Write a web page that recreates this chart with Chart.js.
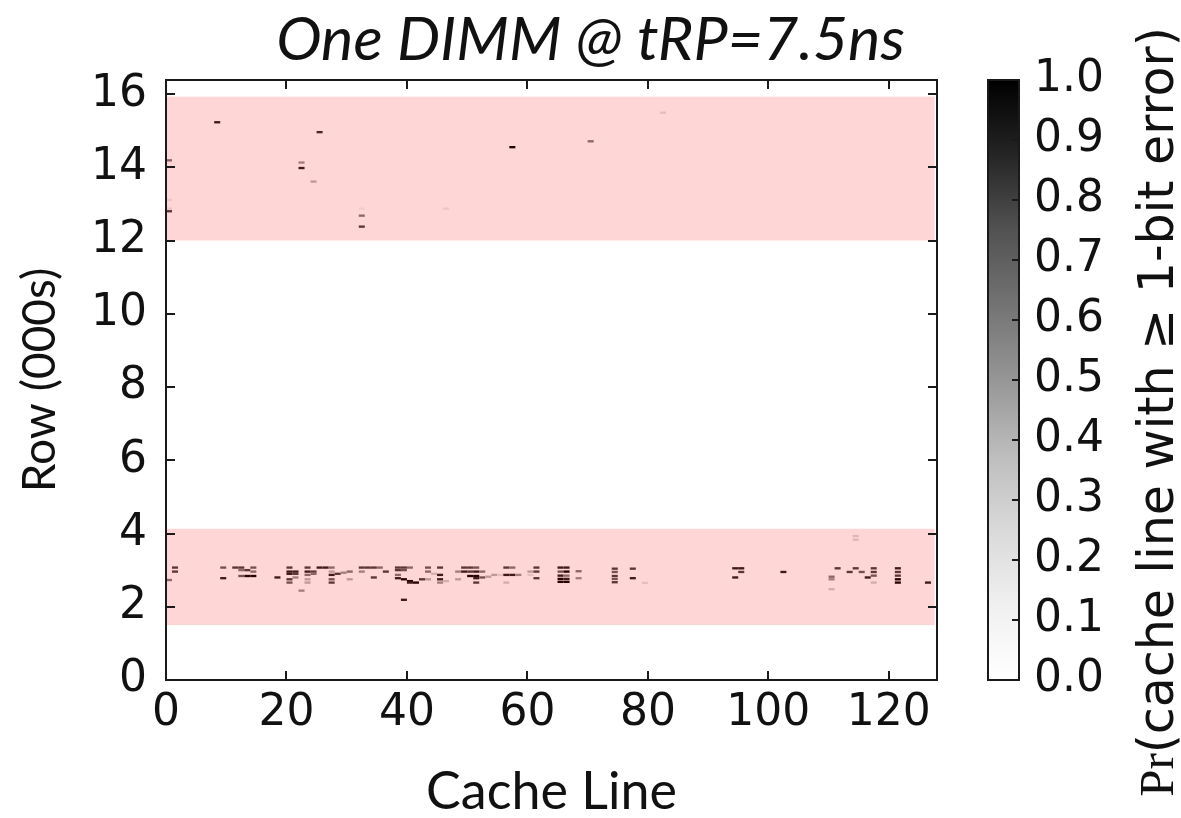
<!DOCTYPE html>
<html>
<head>
<meta charset="utf-8">
<script src="https://cdn.jsdelivr.net/npm/chart.js@4.4.1/dist/chart.umd.min.js"></script>
<style>
  html, body { margin: 0; padding: 0; background: #fff; }
</style>
</head>
<body>
<canvas id="chart" width="1181" height="818"></canvas>
<script>
// Heatmap of per-cache-line error probability, with two highlighted row bands.

const TITLE = 'One DIMM @ tRP=7.5ns';
const X_LABEL = 'Cache Line';
const Y_LABEL = 'Row (000s)';
const CB_LABEL_MATH = 'Pr';
const CB_LABEL_TEXT = '(cache line with \u2265 1-bit error)';

const X_TICKS = [0, 20, 40, 60, 80, 100, 120];
const Y_TICKS = [0, 2, 4, 6, 8, 10, 12, 14, 16];
const CB_TICKS = [0, 0.1, 0.2, 0.3, 0.4, 0.5, 0.6, 0.7, 0.8, 0.9, 1.0];

const CACHE_LINES = 128;
const ROW_MAX = 16.384;   // thousands of rows
const ROW_BIN = 0.064;    // height of one heatmap cell (thousands of rows)

// highlighted row bands (thousands of rows)
const bandRowFrom = [12.0, 1.5];
const bandRowTo   = [15.93, 4.13];
const bandLineTo  = [127.6, 127.6];

// non-zero cells: cache line, row (000s), probability
const cellLine = [
  8, 25, 22, 22, 24, 0, 0, 0, 0, 32, 32, 32, 46, 70, 82, 57,
  1, 1, 0, 9, 9, 11, 12, 14, 12, 13, 14, 13, 14, 12, 18,
  20, 20, 20, 20, 20, 21, 21, 21, 22, 23, 23, 23, 23, 23, 24, 24,
  25, 26, 27, 27, 27, 27, 27, 28, 29, 30, 30, 32, 32, 33, 34, 35, 34, 36,
  38, 39, 40, 38, 39, 38, 38, 39, 40, 41, 40, 39,
  42, 43, 43, 43, 44, 45, 45, 45, 45, 46, 48, 48,
  49, 50, 51, 49, 50, 51, 52, 50, 51, 51, 52, 51, 53, 54, 55,
  56, 57, 56, 57, 56, 58, 60, 60, 61, 61, 61,
  65, 66, 65, 66, 65, 66, 65, 66, 65, 66, 68, 68,
  74, 74, 74, 74, 74, 77, 77, 79,
  94, 95, 95, 94, 102,
  110, 110, 110, 111, 113, 114, 114, 114, 115, 116, 117, 117, 117, 117,
  121, 121, 121, 121, 121, 126
];
const cellRow = [
  15.23, 14.96, 14.13, 13.98, 13.61, 14.19, 13.11, 12.87, 12.80, 12.87, 12.68, 12.38, 12.87, 14.71, 15.49, 14.55,
  3.07, 2.96, 2.73, 3.07, 2.78, 3.07, 3.07, 3.07, 3.00, 3.00, 2.96, 2.84, 2.84, 2.84, 2.80,
  3.07, 2.96, 2.90, 2.75, 2.66, 2.96, 2.90, 2.80, 2.44, 3.07, 2.96, 2.87, 2.75, 2.66, 2.96, 2.90,
  3.07, 3.07, 3.07, 2.96, 2.87, 2.75, 2.66, 2.90, 2.93, 2.96, 2.75, 3.07, 2.96, 3.07, 3.07, 3.07, 2.80, 2.96,
  3.07, 3.07, 3.07, 3.00, 3.00, 2.87, 2.78, 2.75, 2.70, 2.66, 2.66, 2.19,
  2.75, 3.07, 2.96, 2.75, 2.90, 3.07, 2.87, 2.75, 2.66, 2.70, 2.96, 2.75,
  3.07, 3.07, 3.07, 2.96, 2.96, 2.96, 2.96, 2.84, 2.84, 2.78, 2.80, 2.66, 2.82, 2.87, 2.87,
  3.07, 3.07, 2.87, 2.87, 2.66, 2.87, 2.96, 2.87, 3.07, 2.96, 2.78,
  3.07, 3.07, 2.96, 2.96, 2.85, 2.85, 2.76, 2.76, 2.68, 2.68, 2.97, 2.78,
  3.04, 2.95, 2.84, 2.76, 2.67, 3.04, 2.78, 2.65,
  3.05, 3.05, 2.95, 2.80, 2.95,
  2.82, 2.75, 2.48, 3.05, 2.95, 3.05, 3.93, 3.83, 2.95, 2.80, 3.05, 2.95, 2.85, 2.66,
  3.05, 2.95, 2.85, 2.75, 2.66, 2.66
];
const cellProb = [
  0.9, 0.85, 0.5, 0.9, 0.4, 0.6, 0.15, 0.15, 0.8, 0.1, 0.6, 0.8, 0.15, 0.6, 0.2, 1.0,
  0.8, 0.8, 0.6, 0.7, 0.9, 0.8, 0.8, 0.7, 0.6, 0.8, 0.6, 1.0, 1.0, 0.7, 0.9,
  0.8, 0.9, 0.9, 0.8, 0.7, 0.9, 0.8, 0.5, 0.5, 0.8, 0.9, 0.6, 0.4, 0.4, 0.8, 0.6,
  0.9, 0.9, 0.6, 0.4, 0.9, 0.7, 0.8, 0.8, 0.5, 0.6, 0.4, 0.8, 0.5, 0.8, 0.8, 0.6, 0.8, 0.8,
  0.8, 0.8, 0.6, 0.8, 0.7, 0.6, 0.9, 1.0, 1.0, 1.0, 0.9, 0.9,
  0.8, 0.7, 0.6, 0.4, 0.3, 0.8, 0.9, 0.9, 0.5, 0.3, 0.5, 0.4,
  0.8, 0.8, 0.7, 0.9, 0.8, 0.9, 0.6, 1.0, 1.0, 0.9, 0.7, 0.8, 0.4, 0.4, 0.2,
  0.8, 0.6, 0.9, 0.9, 0.3, 0.5, 0.4, 0.2, 0.8, 0.8, 0.8,
  0.9, 0.9, 0.7, 1.0, 0.9, 0.6, 1.0, 0.9, 1.0, 1.0, 0.6, 0.5,
  0.8, 0.7, 0.8, 0.7, 0.8, 0.8, 0.9, 0.2,
  0.9, 0.9, 0.8, 0.9, 0.9,
  0.6, 0.5, 0.3, 0.8, 0.8, 0.8, 0.25, 0.25, 0.7, 0.9, 0.8, 0.8, 0.7, 0.3,
  0.9, 0.8, 0.8, 1.0, 1.0, 0.9
];

// matplotlib "Greys" colormap stops
const GREYS = [255, 240, 217, 189, 150, 115, 82, 37, 0];
function greys(v) {
  const t = Math.max(0, Math.min(1, v)) * (GREYS.length - 1);
  const i = Math.min(Math.floor(t), GREYS.length - 2);
  const g = Math.round(GREYS[i] + (GREYS[i + 1] - GREYS[i]) * (t - i));
  return `rgb(${g},${g},${g})`;
}

const TICK_FONT = {family: 'DejaVu Sans', size: 44};
const TICK_LEN = 9;
const CB_OFFSET = 51;   // colorbar left edge, from right edge of plot
const CB_WIDTH = 31;
const CB_LABEL_SIZE = 49;

const heatmapPlugin = {
  id: 'heatmap',
  beforeDatasetsDraw(chart) {
    const {ctx, chartArea: a, scales: {x, y}} = chart;
    ctx.save();
    ctx.beginPath();
    ctx.rect(a.left, a.top, a.width, a.height);
    ctx.clip();
    for (let i = 0; i < cellLine.length; i++) {
      const x0 = x.getPixelForValue(cellLine[i]);
      const x1 = x.getPixelForValue(cellLine[i] + 1);
      const y0 = y.getPixelForValue(cellRow[i] + ROW_BIN / 2);
      const y1 = y.getPixelForValue(cellRow[i] - ROW_BIN / 2);
      ctx.fillStyle = greys(cellProb[i]);
      ctx.fillRect(x0, y0, x1 - x0, y1 - y0);
    }
    ctx.fillStyle = 'rgba(255,0,0,0.16)';
    bandRowFrom.forEach((r, i) => {
      const x0 = x.getPixelForValue(0);
      const x1 = x.getPixelForValue(bandLineTo[i]);
      const y0 = y.getPixelForValue(bandRowTo[i]);
      const y1 = y.getPixelForValue(r);
      ctx.fillRect(x0, y0, x1 - x0, y1 - y0);
    });
    ctx.restore();
  },
  afterDraw(chart) {
    const {ctx, chartArea: a, scales: {x, y, cb}} = chart;
    ctx.save();
    ctx.strokeStyle = '#1a1a1a';
    ctx.lineWidth = 2;
    ctx.strokeRect(a.left, a.top, a.width, a.height);

    // inward ticks on all four sides
    ctx.beginPath();
    X_TICKS.forEach(v => {
      const px = Math.round(x.getPixelForValue(v));
      ctx.moveTo(px, a.bottom); ctx.lineTo(px, a.bottom - TICK_LEN);
      ctx.moveTo(px, a.top);    ctx.lineTo(px, a.top + TICK_LEN);
    });
    Y_TICKS.forEach(v => {
      const py = Math.round(y.getPixelForValue(v));
      ctx.moveTo(a.left, py);  ctx.lineTo(a.left + TICK_LEN, py);
      ctx.moveTo(a.right, py); ctx.lineTo(a.right - TICK_LEN, py);
    });
    ctx.stroke();

    // colorbar
    const cbLeft = a.right + CB_OFFSET;
    const cbTop = cb.getPixelForValue(1);
    const cbBot = cb.getPixelForValue(0);
    const grad = ctx.createLinearGradient(0, cbBot, 0, cbTop);
    GREYS.forEach((g, i) => grad.addColorStop(i / (GREYS.length - 1), `rgb(${g},${g},${g})`));
    ctx.fillStyle = grad;
    ctx.fillRect(cbLeft, cbTop, CB_WIDTH, cbBot - cbTop);
    ctx.strokeRect(cbLeft, cbTop, CB_WIDTH, cbBot - cbTop);
    ctx.beginPath();
    CB_TICKS.slice(1, -1).forEach(v => {
      const py = Math.round(cb.getPixelForValue(v));
      ctx.moveTo(cbLeft + CB_WIDTH, py);
      ctx.lineTo(cbLeft + CB_WIDTH - 7, py);
    });
    ctx.stroke();

    // colorbar label, reading bottom to top
    ctx.translate(chart.width - 21, (a.top + a.bottom) / 2 + 32);
    ctx.rotate(-Math.PI / 2);
    ctx.fillStyle = '#111';
    ctx.textBaseline = 'middle';
    ctx.textAlign = 'left';
    const mathFont = CB_LABEL_SIZE + 'px "Liberation Serif"';
    const textFont = CB_LABEL_SIZE + 'px "DejaVu Sans"';
    ctx.font = mathFont;
    const w1 = ctx.measureText(CB_LABEL_MATH).width;
    ctx.font = textFont;
    const w2 = ctx.measureText(CB_LABEL_TEXT).width;
    const sx = -(w1 + w2) / 2;
    ctx.font = mathFont;
    ctx.fillText(CB_LABEL_MATH, sx, 0);
    ctx.font = textFont;
    ctx.fillText(CB_LABEL_TEXT, sx + w1, 0);
    ctx.restore();
  }
};

const fixedTicks = list => scale => { scale.ticks = list.map(value => ({value})); };
// keep tick-label overhang from pushing the plot area around
const noOverhang = s => { s.paddingTop = 0; s.paddingBottom = 0; s.paddingLeft = 0; s.paddingRight = 0; };

new Chart(document.getElementById('chart').getContext('2d'), {
  type: 'scatter',
  data: {
    datasets: [{
      data: cellLine.map((v, i) => ({x: v + 0.5, y: cellRow[i]})),
      pointRadius: 0,
      pointHoverRadius: 0
    }]
  },
  options: {
    responsive: false,
    animation: false,
    devicePixelRatio: 1,
    layout: {padding: 0},
    plugins: {
      legend: {display: false},
      tooltip: {enabled: false},
      title: {
        display: true,
        text: TITLE,
        color: '#111',
        font: {family: 'Lato', size: 61, style: 'italic', weight: 'normal', lineHeight: 1},
        padding: {top: 10, bottom: 9}
      }
    },
    scales: {
      x: {
        type: 'linear',
        min: 0,
        max: CACHE_LINES,
        afterBuildTicks: fixedTicks(X_TICKS),
        grid: {display: false, drawTicks: false},
        border: {display: false},
        ticks: {font: TICK_FONT, color: '#111', padding: 7, maxRotation: 0, autoSkip: false},
        title: {
          display: true, text: X_LABEL, color: '#111',
          font: {family: 'Lato', size: 52, lineHeight: 1},
          padding: {top: 0, bottom: 0}
        },
        afterFit: s => { s.height = 138; noOverhang(s); }
      },
      y: {
        type: 'linear',
        min: 0,
        max: ROW_MAX,
        afterBuildTicks: fixedTicks(Y_TICKS),
        grid: {display: false, drawTicks: false},
        border: {display: false},
        ticks: {font: TICK_FONT, color: '#111', padding: 19, autoSkip: false},
        title: {
          display: true, text: Y_LABEL, color: '#111',
          font: {family: 'Lato', size: 46, lineHeight: 1},
          padding: {top: 17, bottom: 0}
        },
        afterFit: s => { s.width = 166; noOverhang(s); }
      },
      cb: {
        type: 'linear',
        position: 'right',
        min: 0,
        max: 1,
        afterBuildTicks: fixedTicks(CB_TICKS),
        grid: {display: false, drawTicks: false},
        border: {display: false},
        ticks: {font: TICK_FONT, color: '#111', padding: 97, autoSkip: false, callback: v => v.toFixed(1)},
        afterFit: s => { s.width = 244; noOverhang(s); }
      }
    }
  },
  plugins: [heatmapPlugin]
});
</script>
</body>
</html>
